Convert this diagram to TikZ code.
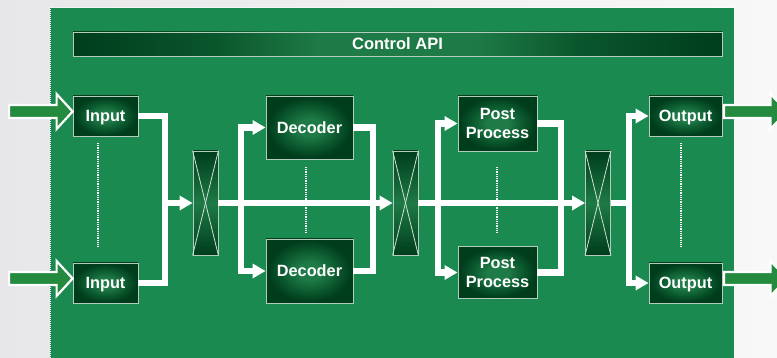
\documentclass[tikz,border=0pt]{standalone}
\usepackage{fontspec}
\setmainfont{Liberation Sans}
\usetikzlibrary{arrows.meta,calc}

\definecolor{bgleft}{HTML}{E7E7E9}
\definecolor{bgright}{HTML}{F8F8F8}
\definecolor{panelgreen}{HTML}{1B8A50}
\definecolor{arrowgreen}{HTML}{238A3E}
\definecolor{boxdark}{HTML}{003D1C}
\definecolor{boxmid}{HTML}{0A562C}
\definecolor{boxlight}{HTML}{1E7A46}
\definecolor{edgegray}{HTML}{B4CCBC}
\definecolor{crossline}{HTML}{CFE0D4}

% soft glow for the processing blocks
\pgfdeclareradialshading{boxglow}{\pgfpoint{0bp}{0bp}}{%
  color(0bp)=(boxlight); color(7bp)=(boxlight); color(17bp)=(boxmid);
  color(24bp)=(boxdark); color(50bp)=(boxdark)}
% dark ends, lighter middle for the control bar
\pgfdeclarehorizontalshading{apibar}{100bp}{%
  color(0bp)=(boxdark); color(25bp)=(boxdark); color(36bp)=(boxmid);
  color(44bp)=(boxlight); color(56bp)=(boxlight); color(64bp)=(boxmid);
  color(75bp)=(boxdark); color(100bp)=(boxdark)}

\tikzset{
  stage/.style={draw=edgegray, line width=0.8pt, shade, shading=boxglow,
    text=white, font=\bfseries\fontsize{16.3}{19}\selectfont,
    align=center, inner sep=0pt, text depth=0pt},
  switchbox/.style={draw=edgegray, line width=0.8pt, top color=boxdark,
    bottom color=boxdark, middle color=boxlight, minimum width=25pt,
    minimum height=104pt, inner sep=0pt},
  wire/.style={white, line width=6.5pt, line join=miter},
  flow/.style={wire, -{Triangle[length=13pt,width=14pt]}},
  fatarrow/.style={fill=arrowgreen, draw=white, line width=2.2pt, line join=miter},
  dotline/.style={white, line width=1.1pt, dash pattern=on 1pt off 0.8pt},
}

\begin{document}
\begin{tikzpicture}[x=1pt, y=-1pt]
  \useasboundingbox (0,0) rectangle (777,358);
  \shade[left color=bgleft, right color=bgright] (0,0) rectangle (777,358);

  % green panel with dotted rim
  \fill[panelgreen] (50,8) rectangle (734,362);
  \draw[white, line width=1pt, dash pattern=on 1pt off 1pt]
    (50,362) -- (50,8) -- (734,8) -- (734,362);

  % blocks
  \node[stage, shading=apibar, minimum width=649pt, minimum height=24pt,
        font=\bfseries\fontsize{16.5}{18}\selectfont] (api) at (397.5,44) {Control API};

  \node[stage, minimum width=65pt, minimum height=40pt] (in1) at (105.5,116) {Input};
  \node[stage, minimum width=65pt, minimum height=40pt] (in2) at (105.5,283) {Input};

  \node[switchbox] (x1) at (205.5,203) {};
  \node[switchbox] (x2) at (405.5,203) {};
  \node[switchbox] (x3) at (598,203) {};

  \node[stage, minimum width=87pt, minimum height=63pt] (dec1) at (309.5,127.5) {Decoder};
  \node[stage, minimum width=87pt, minimum height=64pt] (dec2) at (309.5,271) {Decoder};

  \node[stage, minimum width=79pt, minimum height=55pt] (pp1) at (497.5,123.5) {Post\\Process};
  \node[stage, minimum width=79pt, minimum height=52pt] (pp2) at (497.5,272.5) {Post\\Process};

  \node[stage, minimum width=73pt, minimum height=40pt] (out1) at (685.5,116) {Output};
  \node[stage, minimum width=73pt, minimum height=40pt] (out2) at (685.5,283) {Output};

  % crosses inside the switch boxes
  \foreach \s in {x1,x2,x3}{
    \draw[crossline, line width=0.8pt] (\s.north west) -- (\s.south east);
    \draw[crossline, line width=0.8pt] (\s.north east) -- (\s.south west);
  }

  % "and so on" markers between parallel blocks
  \draw[dotline] (98,143) -- (98,247);
  \draw[dotline] (306,167) -- (306,232);
  \draw[dotline] (497,167) -- (497,232);
  \draw[dotline] (681,143) -- (681,247);

  % junction points on the main data path
  \coordinate (j1) at (165,203);
  \coordinate (b1) at (241,203);
  \coordinate (m1) at (373,203);
  \coordinate (b2) at (438,203);
  \coordinate (m2) at (561,203);
  \coordinate (b3) at (629,203);

  % data path
  \draw[wire] (in1.east) -| (j1) |- (in2.east);
  \draw[flow] (j1) -- (x1.west);
  \draw[flow] (x1.east) -- (x2.west);
  \draw[flow] (b1) |- (dec1.west);
  \draw[flow] (b1) |- (dec2.west);
  \draw[wire] (dec1.east) -| (m1) |- (dec2.east);
  \draw[flow] (x2.east) -- (x3.west);
  \draw[flow] (b2) |- (pp1.west);
  \draw[flow] (b2) |- (pp2.west);
  \draw[wire] (pp1.east) -| (m2) |- (pp2.east);
  \draw[wire] (x3.east) -- (b3);
  \draw[flow] (b3) |- (out1.west);
  \draw[flow] (b3) |- (out2.west);

  % incoming and outgoing streams
  \foreach \n in {in1,in2}{
    \draw[fatarrow, shift={(\n.west)}]
      (-63.5,-11) -- (-16,-11) -- (-16,-22) -- (0,-4.5) -- (-16,13) -- (-16,2) -- (-63.5,2) -- cycle;
  }
  \foreach \n in {out1,out2}{
    \draw[fatarrow, shift={(\n.east)}]
      (1.5,-11) -- (48,-11) -- (48,-22) -- (65,-4.5) -- (48,13) -- (48,2) -- (1.5,2) -- cycle;
  }
\end{tikzpicture}
\end{document}
